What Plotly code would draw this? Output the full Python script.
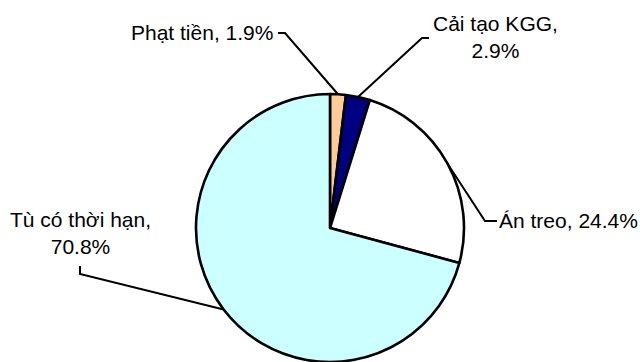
import math
import plotly.graph_objects as go

# ---- data ----
categories = ["Phạt tiền", "Cải tạo KGG", "Án treo", "Tù có thời hạn"]
values = [1.9, 2.9, 24.4, 70.8]
colors = ["#FFCC99", "#000080", "#FFFFFF", "#CCFFFF"]
label_texts = ["Phạt tiền, 1.9%", "Cải tạo KGG,<br>2.9%", "Án treo, 24.4%", "Tù có thời hạn,<br>70.8%"]
title_text = "Tỷ lệ áp dụng các hình thức trong năm này"

W, H = 640, 362
CX, CY, R = 330, 228, 134  # pie centre / radius in px

fig = go.Figure()
fig.add_trace(go.Pie(
    labels=categories,
    values=values,
    sort=False,
    direction="clockwise",
    rotation=0,
    marker=dict(colors=colors, line=dict(color="black", width=2.6)),
    textinfo="none",
    showlegend=False,
    domain=dict(x=[(CX - R) / W, (CX + R) / W], y=[(H - CY - R) / H, (H - CY + R) / H]),
))

def px(x):
    return x / W

def py(y):
    return 1 - y / H

# label placement (px) and leader elbows
label_pos = [
    dict(x=275, y=32, xanchor="right", align="right"),
    dict(x=495, y=37, xanchor="center", align="center"),
    dict(x=497, y=220, xanchor="left", align="left"),
    dict(x=80, y=233, xanchor="center", align="center"),
]
elbows = [
    [(278, 33), (285, 33)],
    [(429, 38), (422, 38)],
    [(497, 221), (485, 221)],
    [(80, 266), (80, 274)],
]

total = sum(values)
cum = 0.0
shapes = []
annotations = []
for i, v in enumerate(values):
    mid = (cum + v / 2) / total * 2 * math.pi
    cum += v
    ex = CX + R * math.sin(mid)
    ey = CY - R * math.cos(mid)
    pts = elbows[i] + [(ex, ey)]
    path = "M " + " L ".join(f"{px(a):.5f},{py(b):.5f}" for a, b in pts)
    shapes.append(dict(type="path", xref="paper", yref="paper", path=path,
                       line=dict(color="black", width=2)))
    lp = label_pos[i]
    annotations.append(dict(
        x=px(lp["x"]), y=py(lp["y"]), xref="paper", yref="paper",
        xanchor=lp["xanchor"], yanchor="middle", align=lp["align"],
        text=label_texts[i], showarrow=False,
        font=dict(family="Liberation Sans, Arial, sans-serif", size=21, color="black"),
    ))

# clipped title (only descenders visible at top, as in the reference)
annotations.append(dict(
    x=px(-168), y=1, xref="paper", yref="paper", xanchor="left", yanchor="bottom",
    text="<b>" + title_text + "</b>", showarrow=False, yshift=-1,
    font=dict(family="Liberation Sans, Arial, sans-serif", size=30, color="black"),
))

fig.update_layout(
    width=W, height=H,
    margin=dict(l=0, r=0, t=0, b=0),
    paper_bgcolor="white", plot_bgcolor="white",
    shapes=shapes, annotations=annotations,
)

fig.write_html("out.html")
